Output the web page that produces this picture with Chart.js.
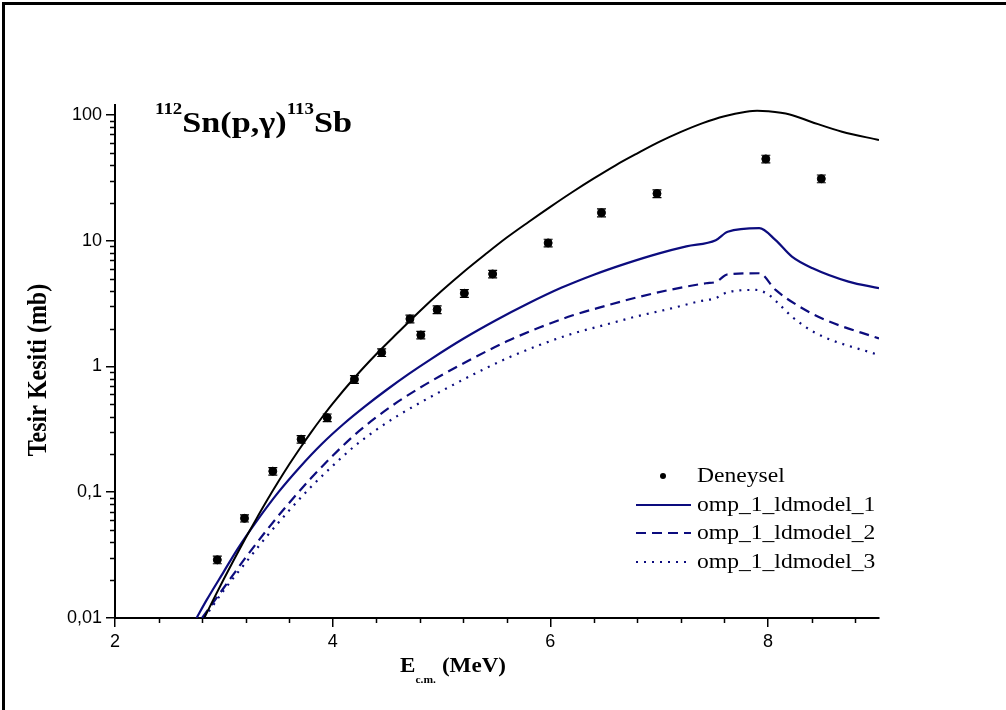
<!DOCTYPE html>
<html>
<head>
<meta charset="utf-8">
<script src="https://cdn.jsdelivr.net/npm/chart.js@4.4.1/dist/chart.umd.min.js"></script>
<style>
  body { margin: 0; background: #fff; overflow: hidden; }
  #wrap { position: relative; width: 1006px; height: 710px; }
  #frame { position: absolute; left: 2px; top: 2px; width: 1010px; height: 720px; border: 3px solid #000; box-sizing: border-box; }
  canvas { position: absolute; left: 0; top: 0; }
</style>
</head>
<body>
<div id="wrap">
  <div id="frame"></div>
  <canvas id="chart" width="1006" height="710"></canvas>
</div>
<script>
// axis ticks
const xTicks = [2, 4, 6, 8];
const xTickLabels = ['2', '4', '6', '8'];
const yTicks = [0.01, 0.1, 1, 10, 100];
const yTickLabels = ['0,01', '0,1', '1', '10', '100'];

// experimental points (Deneysel)
const expE = [2.94, 3.19, 3.45, 3.71, 3.95, 4.20, 4.45, 4.71, 4.81, 4.96, 5.21, 5.47, 5.98, 6.47, 6.98, 7.98, 8.49];
const expS = [0.029, 0.062, 0.147, 0.264, 0.392, 0.79, 1.29, 2.39, 1.78, 2.83, 3.82, 5.44, 9.6, 16.7, 23.7, 44.7, 31.1];
const expErr = [0.002, 0.004, 0.01, 0.018, 0.027, 0.055, 0.09, 0.17, 0.12, 0.2, 0.27, 0.38, 0.67, 1.2, 1.7, 3.1, 2.2];

// black curve (no legend entry)
const blackE = [2.82, 2.9, 3.0, 3.1, 3.2, 3.3, 3.4, 3.5, 3.6, 3.7, 3.8, 3.9, 4.0, 4.2, 4.4, 4.6, 4.8, 5.0, 5.2, 5.4, 5.6, 5.8, 6.0, 6.2, 6.4, 6.6, 6.8, 7.0, 7.2, 7.4, 7.6, 7.8, 7.9, 8.0, 8.2, 8.4, 8.68, 9.02];
const blackS = [0.01, 0.0138, 0.0204, 0.0299, 0.0432, 0.0617, 0.0871, 0.121, 0.166, 0.224, 0.298, 0.391, 0.506, 0.813, 1.25, 1.86, 2.75, 3.98, 5.62, 7.76, 10.6, 14.1, 18.6, 24.3, 31.3, 39.8, 49.5, 61.0, 73.3, 86.1, 97.7, 105.9, 108, 107, 101, 88, 73.6, 63.2];

// omp_1_ldmodel_1
const m1E = [2.75, 2.84, 3.0, 3.12, 3.3, 3.5, 3.7, 3.9, 4.1, 4.3, 4.5, 4.7, 4.9, 5.2, 5.5, 5.8, 6.1, 6.4, 6.7, 7.0, 7.25, 7.52, 7.63, 7.92, 8.07, 8.22, 8.41, 8.74, 9.02];
const m1S = [0.01, 0.0138, 0.0234, 0.0347, 0.0587, 0.0998, 0.159, 0.242, 0.349, 0.484, 0.656, 0.873, 1.14, 1.66, 2.33, 3.18, 4.22, 5.37, 6.61, 7.94, 9.02, 10.1, 11.8, 12.6, 10.1, 7.47, 6.04, 4.73, 4.19];

// omp_1_ldmodel_2
const m2E = [2.80, 3.0, 3.2, 3.4, 3.6, 3.8, 4.0, 4.2, 4.4, 4.6, 4.8, 5.0, 5.3, 5.6, 5.9, 6.2, 6.5, 6.8, 7.1, 7.43, 7.52, 7.63, 7.92, 8.07, 8.29, 8.53, 9.02];
const m2S = [0.01, 0.0174, 0.0302, 0.0507, 0.0822, 0.129, 0.195, 0.285, 0.394, 0.525, 0.676, 0.851, 1.175, 1.585, 2.04, 2.54, 3.02, 3.55, 4.07, 4.59, 4.7, 5.4, 5.51, 4.06, 2.99, 2.34, 1.67];

// omp_1_ldmodel_3
const m3E = [2.82, 3.0, 3.2, 3.4, 3.6, 3.8, 4.0, 4.2, 4.4, 4.6, 4.8, 5.0, 5.3, 5.6, 5.9, 6.2, 6.5, 6.8, 7.1, 7.37, 7.52, 7.63, 7.89, 8.0, 8.11, 8.22, 8.44, 9.02];
const m3S = [0.01, 0.0166, 0.0275, 0.0452, 0.0716, 0.110, 0.162, 0.232, 0.313, 0.407, 0.513, 0.638, 0.871, 1.16, 1.48, 1.82, 2.14, 2.51, 2.88, 3.3, 3.5, 3.9, 4.06, 3.75, 3.08, 2.49, 1.84, 1.23];

const NAVY = '#0c0c7e';
const STRETCH = 1.18;   // the source picture is a bit wider than tall

function pts(xs, ys) { return xs.map((x, i) => ({ x: x, y: ys[i] })); }

// draw text widened a little, returns the advance
function wideText(ctx, txt, x, y, sx) {
    ctx.save();
    ctx.translate(x, y);
    ctx.scale(sx, 1);
    ctx.fillText(txt, 0, 0);
    const w = ctx.measureText(txt).width * sx;
    ctx.restore();
    return w;
}

// error bars + minor ticks + title + legend + axis titles
const decor = {
    id: 'decor',
    afterDatasetsDraw(chart) {
        const ctx = chart.ctx;
        const xs = chart.scales.x, ys = chart.scales.y;
        ctx.save();
        ctx.strokeStyle = '#000';
        ctx.lineWidth = 1.2;
        expE.forEach((e, i) => {
            const px = xs.getPixelForValue(e);
            const top = ys.getPixelForValue(expS[i] + expErr[i]);
            const bot = ys.getPixelForValue(expS[i] - expErr[i]);
            ctx.beginPath();
            ctx.moveTo(px, top); ctx.lineTo(px, bot);
            ctx.moveTo(px - 4.5, top); ctx.lineTo(px + 4.5, top);
            ctx.moveTo(px - 4.5, bot); ctx.lineTo(px + 4.5, bot);
            ctx.stroke();
        });
        ctx.restore();
    },
    afterDraw(chart) {
        const ctx = chart.ctx;
        const xs = chart.scales.x, ys = chart.scales.y;
        const area = chart.chartArea;
        ctx.save();
        ctx.strokeStyle = '#000';
        ctx.lineWidth = 1.5;

        // minor ticks
        ctx.beginPath();
        for (let v = 2.4; v < 9.01; v += 0.4) {
            if (Math.abs(v / 2 - Math.round(v / 2)) < 0.01) continue;
            const px = Math.round(xs.getPixelForValue(v)) + 0.5;
            ctx.moveTo(px, area.bottom); ctx.lineTo(px, area.bottom + 5);
        }
        yTicks.forEach(d => {
            for (let m = 2; m <= 9; m++) {
                const v = d * m;
                if (v > ys.max) break;
                const py = Math.round(ys.getPixelForValue(v)) + 0.5;
                ctx.moveTo(area.left, py); ctx.lineTo(area.left - 5, py);
            }
        });
        ctx.stroke();

        ctx.fillStyle = '#000';
        ctx.textBaseline = 'alphabetic';
        ctx.textAlign = 'left';

        // title 112Sn(p,γ)113Sb
        let x = 155;
        ctx.font = 'bold 16px "Liberation Serif"';
        x += wideText(ctx, '112', x, 114, STRETCH);
        ctx.font = 'bold 29px "Liberation Serif"';
        x += wideText(ctx, 'Sn(p,γ)', x, 132, STRETCH);
        ctx.font = 'bold 16px "Liberation Serif"';
        x += wideText(ctx, '113', x, 114, STRETCH);
        ctx.font = 'bold 29px "Liberation Serif"';
        wideText(ctx, 'Sb', x, 132, STRETCH);

        // x axis title
        x = 400;
        ctx.font = 'bold 22px "Liberation Serif"';
        x += wideText(ctx, 'E', x, 672, 1.05);
        ctx.font = 'bold 11px "Liberation Serif"';
        x += wideText(ctx, 'c.m.', x, 683, 1.05) + 6;
        ctx.font = 'bold 22px "Liberation Serif"';
        wideText(ctx, '(MeV)', x, 672, 1.05);

        // y axis title
        ctx.save();
        ctx.translate(46, 370);
        ctx.rotate(-Math.PI / 2);
        ctx.scale(1, STRETCH);
        ctx.font = 'bold 24px "Liberation Serif"';
        ctx.textAlign = 'center';
        ctx.fillText('Tesir Kesiti (mb)', 0, 0);
        ctx.restore();

        // legend
        const rows = [476, 505, 533, 562];
        const names = ['Deneysel', 'omp_1_ldmodel_1', 'omp_1_ldmodel_2', 'omp_1_ldmodel_3'];
        const dsIdx = [0, 2, 3, 4];
        ctx.font = '20px "Liberation Serif"';
        ctx.textBaseline = 'middle';
        rows.forEach((ry, i) => {
            const ds = chart.data.datasets[dsIdx[i]];
            if (i === 0) {
                ctx.beginPath();
                ctx.arc(663, ry, 3, 0, Math.PI * 2);
                ctx.fill();
            } else {
                ctx.save();
                ctx.strokeStyle = ds.borderColor;
                ctx.lineWidth = ds.borderWidth;
                ctx.setLineDash(ds.borderDash || []);
                ctx.beginPath();
                ctx.moveTo(636, ry); ctx.lineTo(691, ry);
                ctx.stroke();
                ctx.restore();
            }
            wideText(ctx, names[i], 697, ry + 1, STRETCH);
        });
        ctx.restore();
    }
};

const lineBase = { showLine: true, pointRadius: 0, cubicInterpolationMode: 'monotone', fill: false };

new Chart(document.getElementById('chart'), {
    type: 'scatter',
    data: {
        datasets: [
            { label: 'Deneysel', data: pts(expE, expS), pointRadius: 4, pointBackgroundColor: '#000', pointBorderColor: '#000', showLine: false },
            Object.assign({ label: 'black', data: pts(blackE, blackS), borderColor: '#000', borderWidth: 2 }, lineBase),
            Object.assign({ label: 'omp_1_ldmodel_1', data: pts(m1E, m1S), borderColor: NAVY, borderWidth: 2.2 }, lineBase),
            Object.assign({ label: 'omp_1_ldmodel_2', data: pts(m2E, m2S), borderColor: NAVY, borderWidth: 2.2, borderDash: [10, 6] }, lineBase),
            Object.assign({ label: 'omp_1_ldmodel_3', data: pts(m3E, m3S), borderColor: NAVY, borderWidth: 2.2, borderDash: [2, 6] }, lineBase)
        ]
    },
    options: {
        responsive: false,
        animation: false,
        devicePixelRatio: 1,
        layout: { padding: { left: 0, top: 105, right: 127, bottom: 0 } },
        plugins: { legend: { display: false }, tooltip: { enabled: false } },
        scales: {
            x: {
                type: 'linear', min: 2, max: 9.02,
                afterBuildTicks: s => { s.ticks = xTicks.map(v => ({ value: v })); },
                afterFit: s => { s.height = 92; },
                ticks: { callback: (v, i) => xTickLabels[i], color: '#000', font: { family: '"Liberation Sans"', size: 18 }, padding: 4, maxRotation: 0 },
                grid: { drawOnChartArea: false, drawTicks: true, tickLength: 9, color: '#000', lineWidth: 1.5 },
                border: { display: true, color: '#000', width: 2 }
            },
            y: {
                type: 'logarithmic', min: 0.01, max: 120,
                afterBuildTicks: s => { s.ticks = yTicks.map(v => ({ value: v })); },
                afterFit: s => { s.width = 115; },
                ticks: { callback: (v, i) => yTickLabels[i], color: '#000', font: { family: '"Liberation Sans"', size: 18 }, padding: 4 },
                grid: { drawOnChartArea: false, drawTicks: true, tickLength: 9, color: '#000', lineWidth: 1.5 },
                border: { display: true, color: '#000', width: 2 }
            }
        }
    },
    plugins: [decor]
});
</script>
</body>
</html>
